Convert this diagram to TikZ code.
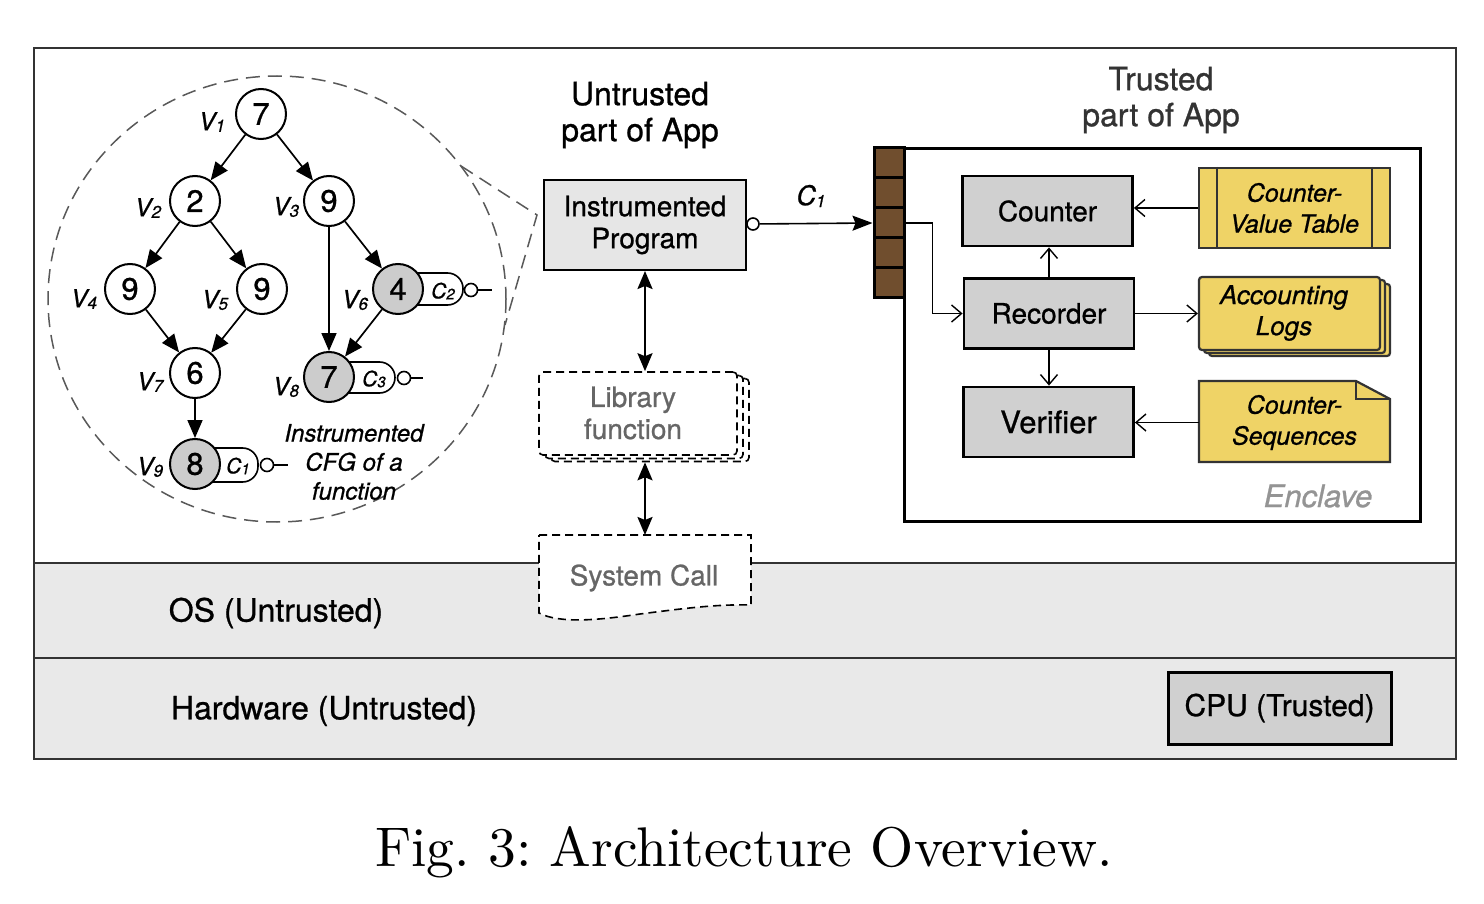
\documentclass[tikz,border=0pt]{standalone}
\usepackage{fontspec}
\usepackage{graphicx}
\usetikzlibrary{arrows.meta,shapes.geometric}
\newfontfamily\hv[FakeBold=0.8]{TeX Gyre Heros}
\newcommand\fsz[2]{\fontsize{#1}{#2}\selectfont}
\definecolor{bandgray}{RGB}{233,233,233}
\definecolor{boxgray}{RGB}{208,208,208}
\definecolor{progray}{RGB}{230,230,230}
\definecolor{nodegray}{RGB}{204,204,204}
\definecolor{yel}{RGB}{239,211,102}
\definecolor{brn}{RGB}{112,78,46}
\definecolor{dk}{RGB}{51,51,51}
\newcommand\Vl[1]{\textit{V}\raisebox{-1.5pt}{\fsz{17}{17}\textit{#1}}}
\newcommand\Cl[1]{\textit{C}\raisebox{-1pt}{\fsz{15}{15}\textit{#1}}}
\begin{document}
\begin{tikzpicture}[x=1pt,y=-1pt,
  cfgnode/.style={circle,draw,line width=2pt,minimum size=50pt,inner sep=0pt,fill=white,font=\hv\fsz{31}{31}},
  cfggray/.style={cfgnode,fill=nodegray},
  vlab/.style={font=\hv\itshape\fsz{25}{25},inner sep=0pt},
  cfgedge/.style={line width=1.7pt,-{Triangle[length=18pt,width=15pt]}},
  pill/.style={draw,line width=1.6pt,fill=white,rounded corners=15.5pt},
  clab/.style={font=\hv\itshape\fsz{21}{21},inner sep=0pt},
  ocirc/.style={circle,draw,line width=1.6pt,fill=white,minimum size=13pt,inner sep=0pt},
  graybox/.style={draw=black,line width=2.8pt,fill=boxgray,minimum width=170pt,minimum height=70pt,inner sep=0pt,font=\hv\fsz{28}{32}},
  yelbox/.style={draw=dk,line width=2.2pt,fill=yel,font=\hv\itshape\fsz{25}{31},align=center,inner sep=0pt},
  oarr/.style={line width=1.4pt,-{Straight Barb[length=10pt,width=17pt]}},
  darr/.style={line width=2.2pt,{Stealth[length=18pt,width=15pt,inset=3pt]}-{Stealth[length=18pt,width=15pt,inset=3pt]}},
  cellbox/.style={draw=black,line width=3pt,fill=brn,minimum width=30pt,minimum height=30pt,inner sep=0pt},
  dashbox/.style={draw=black,dash pattern=on 8pt off 5pt,line width=1.6pt,fill=white,rounded corners=4pt,minimum width=198pt,minimum height=83pt,inner sep=0pt},
  gtext/.style={text=black!60,font=\hv\fsz{28}{32},align=center,inner sep=0pt},
  btext/.style={font=\hv\fsz{32}{36},align=center,inner sep=0pt}
]
\useasboundingbox (0,0) rectangle (1484,904);
\fill[white] (0,0) rectangle (1484,904);
% bands and frame
\fill[bandgray] (34,563) rectangle (1456,759);
\draw[dk,line width=2pt] (34,563) -- (1456,563);
\draw[dk,line width=2pt] (34,658) -- (1456,658);
\draw[dk,line width=2pt] (34,48) rectangle (1456,759);

% CFG dashed ellipse and callout
\draw[black!65,line width=1.5pt,dash pattern=on 14pt off 8pt] (277,299) ellipse [x radius=229,y radius=223];
\draw[black!65,line width=1.5pt,dash pattern=on 14pt off 8pt] (461,166) -- (537,215) -- (505,325);

% pills
\draw[pill] (398,273) rectangle (463,305);
\draw[pill] (329,362) rectangle (395,393);
\draw[pill] (195,448) rectangle (258,482);

% CFG nodes
\node[cfgnode] (v1) at (261,114) {7};
\node[cfgnode] (v2) at (195,201) {2};
\node[cfgnode] (v3) at (329,201) {9};
\node[cfgnode] (v4) at (130,289) {9};
\node[cfgnode] (v5) at (262,289) {9};
\node[cfggray] (v6) at (398,289) {4};
\node[cfgnode] (v7) at (195,373) {6};
\node[cfggray] (v8) at (329,377) {7};
\node[cfggray] (v9) at (195,464) {8};

\node[vlab] (l1) at (212,122) {\Vl{1}};
\node[vlab] (l2) at (148,208) {\Vl{2}};
\node[vlab] (l3) at (286,207) {\Vl{3}};
\node[vlab] (l4) at (84,299) {\Vl{4}};
\node[vlab] (l5) at (215,300) {\Vl{5}};
\node[vlab] (l6) at (355,300) {\Vl{6}};
\node[vlab] (l7) at (150,382) {\Vl{7}};
\node[vlab] (l8) at (286,387) {\Vl{8}};
\node[vlab] (l9) at (150,467) {\Vl{9}};

\draw[cfgedge] (v1) -- (v2);
\draw[cfgedge] (v1) -- (v3);
\draw[cfgedge] (v2) -- (v4);
\draw[cfgedge] (v2) -- (v5);
\draw[cfgedge] (v4) -- (v7);
\draw[cfgedge] (v5) -- (v7);
\draw[cfgedge] (v3) -- (v8);
\draw[cfgedge] (v3) -- (v6);
\draw[cfgedge] (v6) -- (v8);
\draw[cfgedge] (v7) -- (v9);

\node[clab] (c2) at (443,291) {\Cl{2}};
\node[clab] (c3) at (374,379) {\Cl{3}};
\node[clab] (c1) at (238,466) {\Cl{1}};
\node[ocirc] (o2) at (471,290) {};
\node[ocirc] (o3) at (404,378) {};
\node[ocirc] (o1) at (267,465) {};
\coordinate (e2) at (492,290);
\coordinate (e3) at (423,378);
\coordinate (e1) at (288,465);
\draw[line width=1.6pt] (o2) -- (e2);
\draw[line width=1.6pt] (o3) -- (e3);
\draw[line width=1.6pt] (o1) -- (e1);

\node[font=\hv\itshape\fsz{24}{29},align=center,inner sep=0pt] (cfgtxt) at (354,462) {Instrumented\\CFG of a\\function};

% middle column
\node[btext] (untr) at (640,115) {Untrusted\\part of App};
\node[draw=black,line width=2pt,fill=progray,minimum width=202pt,minimum height=90pt,inner sep=0pt,font=\hv\fsz{28}{32},align=center] (prog) at (645,225) {Instrumented\\Program};
\node[ocirc,minimum size=12pt] (po) at (753,224) {};

\node[dashbox] (libb) at (650,420) {};
\node[dashbox] (libm) at (644,417) {};
\node[dashbox] (lib) at (638,413.5) {};
\node[gtext] (libtxt) at (633,413) {Library\\function};

\draw[dashbox,rounded corners=0pt] (539,535) -- (751,535) -- (751,605) .. controls (715,604) and (680,609) .. (640,614) .. controls (600,620) and (560,624) .. (539,613) -- cycle;
\node[gtext] (sys) at (644,578) {System Call};
\coordinate (systop) at (645,535);

\draw[darr] (prog.south) -- (prog.south |- lib.north);
\draw[darr] (prog.south |- libb.south) -- (systop);

% stack and enclave
\draw[black,line width=3pt] (904,149) rectangle (1420,521);
\node[cellbox] (s1) at (889,163) {};
\node[cellbox] (s2) at (889,193) {};
\node[cellbox] (s3) at (889,223) {};
\node[cellbox] (s4) at (889,253) {};
\node[cellbox] (s5) at (889,283) {};

\draw[line width=1.6pt,-{Stealth[length=20pt,width=15pt,inset=3pt]}] (po) -- (s3.west);
\node[font=\hv\itshape\fsz{27}{27},inner sep=0pt] (c1lab) at (811,196) {C\raisebox{-2pt}{\fsz{17}{17}\textit{1}}};

\node[btext,text=dk] (tr) at (1161,100) {Trusted\\part of App};

\node[graybox] (cnt) at (1047.5,211) {Counter};
\node[graybox] (rec) at (1049,313.5) {Recorder};
\node[graybox,font=\hv\fsz{31}{32}] (ver) at (1048.5,422) {Verifier};

% yellow stores
\node[yelbox,minimum width=191pt,minimum height=80pt] (cvt) at (1294.5,208) {Counter-\\Value Table};
\draw[dk,line width=2.2pt] ([xshift=19pt]cvt.north west) -- ([xshift=19pt]cvt.south west);
\draw[dk,line width=2.2pt] ([xshift=-19pt]cvt.north east) -- ([xshift=-19pt]cvt.south east);

\draw[draw=dk,line width=2.2pt,fill=yel,rounded corners=3pt] (1209,284) rectangle (1390,356);
\draw[draw=dk,line width=2.2pt,fill=yel,rounded corners=3pt] (1204,280) rectangle (1385,353);
\node[yelbox,rounded corners=3pt,minimum width=181pt,minimum height=73pt] (logs) at (1289.5,313.5) {};
\node[font=\hv\itshape\fsz{26}{31},align=center,inner sep=0pt] (logtxt) at (1284,313) {Accounting\\Logs};

\draw[draw=dk,line width=2.2pt,fill=yel] (1199,381) -- (1356,381) -- (1390,399) -- (1390,462) -- (1199,462) -- cycle;
\draw[dk,line width=2.2pt] (1356,381) -- (1356,399) -- (1390,399);
\node[font=\hv\itshape\fsz{25}{31},align=center,inner sep=0pt,minimum width=191pt] (seq) at (1294.5,422.5) {Counter-\\Sequences};

\node[font=\hv\itshape\fsz{31}{31},text=black!42,inner sep=0pt] (encl) at (1318,496) {Enclave};

% enclave arrows
\draw[oarr] (s3.east) -- ++(27,0) |- (rec.west);
\draw[oarr] (rec.north) -- (rec.north |- cnt.south);
\draw[oarr] (rec.south) -- (rec.south |- ver.north);
\draw[oarr] (cvt.west) -- (cvt.west -| cnt.east);
\draw[oarr] (rec.east) -- (rec.east -| logs.west);
\draw[oarr] (seq.west) -- (seq.west -| ver.east);

% OS / hardware
\node[btext] (os) at (276,613) {OS (Untrusted)};
\node[btext] (hw) at (324,711) {Hardware (Untrusted)};
\node[draw=black,line width=3pt,fill=boxgray,minimum width=223pt,minimum height=72pt,inner sep=0pt,font=\hv\fsz{30}{32}] (cpu) at (1279.5,708) {CPU (Trusted)};

% caption
\node[inner sep=0pt] (cap) at (744,852) {\resizebox{738pt}{40pt}{\frenchspacing Fig. 3: Architecture Overview.}};
\end{tikzpicture}
\end{document}
